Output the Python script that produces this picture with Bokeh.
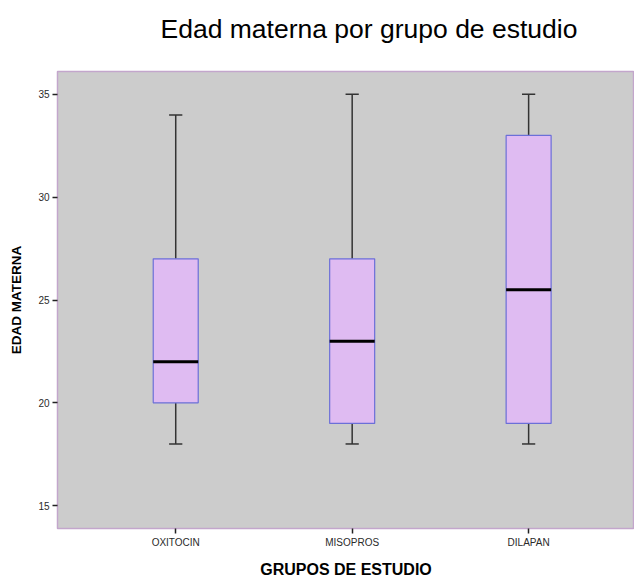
from bokeh.plotting import figure
from bokeh.models import Range1d, FixedTicker, ColumnDataSource, Title
from bokeh.embed import file_html
from bokeh.resources import INLINE

# Maternal age by study group (five-number summaries)
groups = ["OXITOCIN", "MISOPROS", "DILAPAN"]
lower_whisker = [18, 18, 18]
q1 = [20, 19, 19]
median = [22, 23, 25.5]
q3 = [27, 27, 33]
upper_whisker = [34, 35, 35]
y_ticks = [15, 20, 25, 30, 35]
title_text = "Edad materna por grupo de estudio"

pos = [1, 2, 3]
box_w = 0.255
cap_w = 0.075

FONT = "Liberation Sans"
BG = "#cccccc"
BOX_FILL = "#dfbbf2"
BOX_LINE = "#6b6fd8"
FRAME_LINE = "#c3a6cc"

src = ColumnDataSource(dict(
    x=pos, lo=lower_whisker, q1=q1, med=median, q3=q3, hi=upper_whisker,
))

p = figure(
    width=634, height=580,
    x_range=Range1d(0.33, 3.60), y_range=Range1d(13.89, 36.11),
    output_backend="svg", toolbar_location=None,
    min_border_left=57, min_border_right=0, min_border_top=71, min_border_bottom=49,
    background_fill_color=BG, border_fill_color="white",
)

p.title.text = title_text
p.title.text_font = FONT
p.title.text_font_size = "26.5px"
p.title.text_font_style = "normal"
p.title.text_color = "black"
p.title.align = "left"
p.title.offset = 103
p.title.vertical_align = "top"
p.title.standoff = 26

# blank strip between the heading and the plot frame
p.add_layout(Title(text=" ", text_font_size="1px", standoff=10), "above")

p.outline_line_color = FRAME_LINE
p.outline_line_width = 1.5
p.grid.visible = False

# whiskers
p.segment(x0="x", y0="q3", x1="x", y1="hi", source=src, line_color="#333333", line_width=1.5)
p.segment(x0="x", y0="lo", x1="x", y1="q1", source=src, line_color="#333333", line_width=1.5)
# whisker caps
cap_x0 = [x - cap_w / 2 for x in pos]
cap_x1 = [x + cap_w / 2 for x in pos]
p.segment(x0=cap_x0, y0=upper_whisker, x1=cap_x1, y1=upper_whisker, line_color="#333333", line_width=1.5)
p.segment(x0=cap_x0, y0=lower_whisker, x1=cap_x1, y1=lower_whisker, line_color="#333333", line_width=1.5)
# boxes
p.vbar(x="x", width=box_w, bottom="q1", top="q3", source=src,
       fill_color=BOX_FILL, line_color=BOX_LINE, line_width=1.2)
# medians
med_x0 = [x - box_w / 2 for x in pos]
med_x1 = [x + box_w / 2 for x in pos]
p.segment(x0=med_x0, y0=median, x1=med_x1, y1=median, line_color="black", line_width=3)

# axes
p.xaxis.ticker = FixedTicker(ticks=pos)
p.xaxis.major_label_overrides = {i: g for i, g in zip(pos, groups)}
p.yaxis.ticker = FixedTicker(ticks=y_ticks)
for ax in (p.xaxis[0], p.yaxis[0]):
    ax.axis_line_color = None
    ax.major_tick_line_color = "#222222"
    ax.major_tick_line_width = 1.5
    ax.major_tick_out = 5
    ax.major_tick_in = 0
    ax.minor_tick_line_color = None
    ax.major_label_text_font = FONT
    ax.major_label_text_font_size = "10px"
    ax.major_label_text_color = "#2a2a2a"
    ax.axis_label_text_font = FONT
    ax.axis_label_text_font_style = "bold"
    ax.axis_label_text_color = "black"

p.xaxis.axis_label = "GRUPOS DE ESTUDIO"
p.xaxis.axis_label_text_font_size = "16px"
p.xaxis.major_label_standoff = 3
p.xaxis.axis_label_standoff = 10

p.yaxis.axis_label = "EDAD MATERNA"
p.yaxis.axis_label_text_font_size = "13.5px"
p.yaxis.major_label_standoff = 3
p.yaxis.axis_label_standoff = 11

open("out.html", "w").write(file_html(p, INLINE))
